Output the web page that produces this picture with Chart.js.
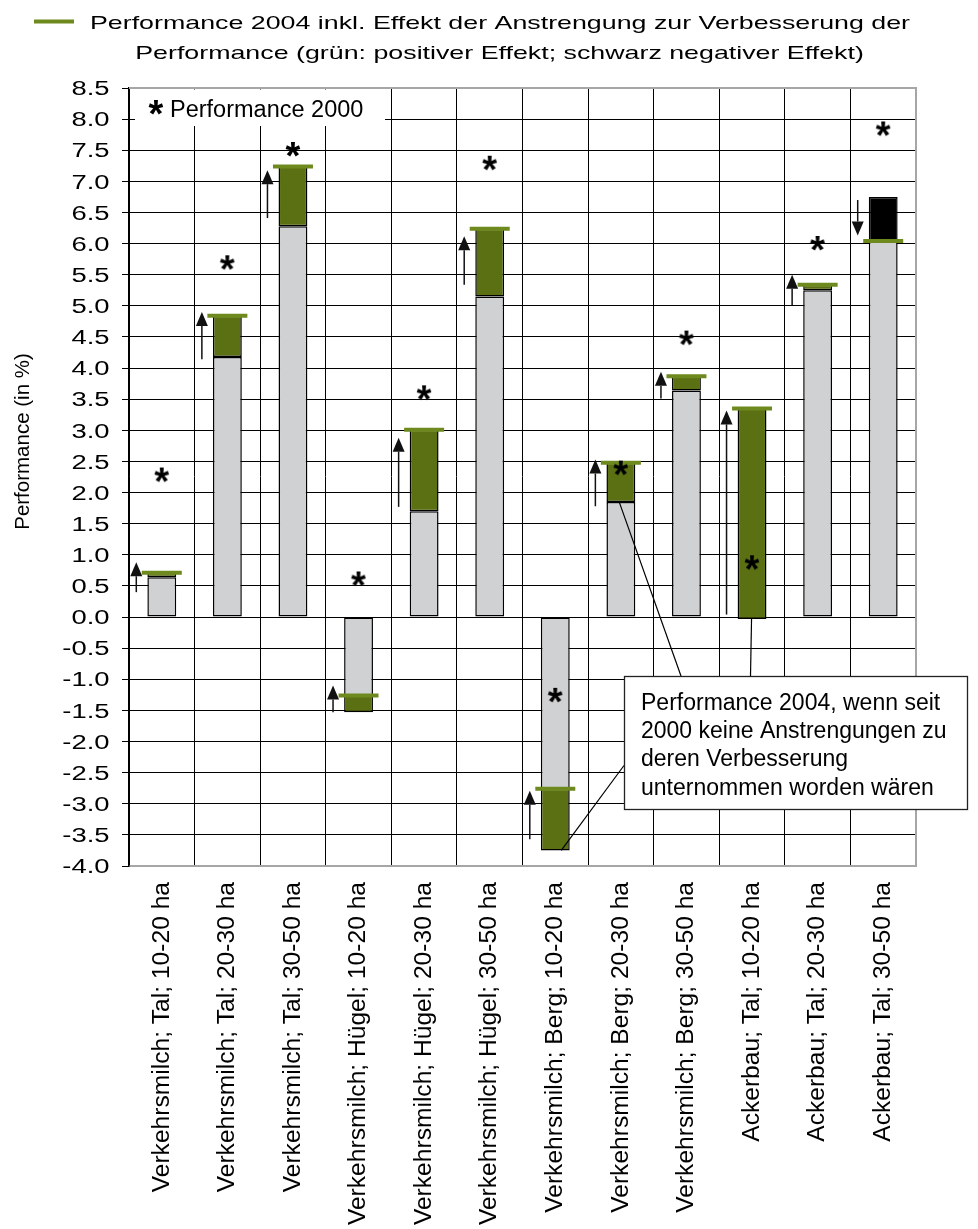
<!DOCTYPE html>
<html>
<head>
<meta charset="utf-8">
<script src="https://cdn.jsdelivr.net/npm/chart.js@4.4.1/dist/chart.umd.min.js"></script>
<style>
  body { margin: 0; background: #fff; }
  #wrap { width: 978px; height: 1229px; }
</style>
</head>
<body>
<div id="wrap"><canvas id="myChart"></canvas></div>
<script>
const categories = [
  "Verkehrsmilch; Tal; 10-20 ha",
  "Verkehrsmilch; Tal; 20-30 ha",
  "Verkehrsmilch; Tal; 30-50 ha",
  "Verkehrsmilch; Hügel; 10-20 ha",
  "Verkehrsmilch; Hügel; 20-30 ha",
  "Verkehrsmilch; Hügel; 30-50 ha",
  "Verkehrsmilch; Berg; 10-20 ha",
  "Verkehrsmilch; Berg; 20-30 ha",
  "Verkehrsmilch; Berg; 30-50 ha",
  "Ackerbau; Tal; 10-20 ha",
  "Ackerbau; Tal; 20-30 ha",
  "Ackerbau; Tal; 30-50 ha"
];
// Performance 2000 (stars)
const perf2000 = [2.29, 5.70, 7.52, 0.62, 3.61, 7.30, -1.25, 2.40, 4.49, 0.88, 6.01, 7.85];
// Performance 2004 without efforts since 2000
const perfOhne = [0.64, 4.18, 6.28, -1.53, 1.70, 5.15, -3.75, 1.85, 3.64, -0.03, 5.25, 6.75];
// Performance 2004 incl. effect of the efforts
const perf2004 = [0.71, 4.84, 7.24, -1.26, 3.01, 6.24, -2.76, 2.48, 3.87, 3.35, 5.34, 6.04];
// arrows left of the bars
const arrowFrom = [0.40, 4.14, 6.41, -1.53, 1.77, 5.34, -3.57, 1.78, 3.51, 0.04, 5.01, 6.70];
const arrowTo = [0.88, 4.90, 7.18, -1.10, 2.88, 6.12, -2.79, 2.53, 3.94, 3.32, 5.50, 6.13];
const yMin = -4, yMax = 8.5, yStep = 0.5;

const legendLines = [
  "Performance 2004 inkl. Effekt der Anstrengung zur Verbesserung der",
  "Performance (grün: positiver Effekt; schwarz negativer Effekt)"
];
const starLegend = "Performance 2000";
const yTitle = "Performance (in %)";
const calloutLines = [
  "Performance 2004, wenn seit",
  "2000 keine Anstrengungen zu",
  "deren Verbesserung",
  "unternommen worden wären"
];
const calloutTargets = [7, 9, 6];

const green = "#5b7012";
const markerGreen = "#6e8a1e";
const grey = "#d0d1d3";
const FONT = '"Liberation Sans", Arial, sans-serif';

Chart.defaults.font.family = FONT;
Chart.defaults.color = "#000";

// grey part of the bar: from 0 to the value nearer to zero (if same sign)
const grayBars = perfOhne.map((o, i) => {
  const m = perf2004[i];
  if (o * m <= 0) return null;
  return [0, Math.abs(o) < Math.abs(m) ? o : m];
});
const effectBars = perfOhne.map((o, i) => [o, perf2004[i]]);
const effectColors = perfOhne.map((o, i) => (perf2004[i] >= o ? green : "#000"));

// asterisk marker
const starImg = document.createElement("canvas");
starImg.width = 26;
starImg.height = 26;
const sc = starImg.getContext("2d");
sc.font = "bold 38px " + FONT;
const sm = sc.measureText("*");
sc.fillStyle = "#000";
sc.fillText("*",
  13 - (sm.actualBoundingBoxRight - sm.actualBoundingBoxLeft) / 2,
  13 + (sm.actualBoundingBoxAscent - sm.actualBoundingBoxDescent) / 2);

function wideText(ctx, text, x, y, font, sx, align) {
  ctx.save();
  ctx.translate(x, y);
  ctx.scale(sx, 1);
  ctx.font = font;
  ctx.textAlign = align;
  ctx.textBaseline = "alphabetic";
  ctx.fillStyle = "#000";
  ctx.fillText(text, 0, 0);
  ctx.restore();
}

const extras = {
  id: "extras",
  beforeDatasetsDraw(chart) {
    const { ctx, chartArea: a } = chart;
    ctx.save();
    // grey frame of the plot area
    ctx.strokeStyle = "#a6a6a6";
    ctx.lineWidth = 2;
    ctx.beginPath();
    ctx.moveTo(a.left, a.top);
    ctx.lineTo(a.right, a.top);
    ctx.lineTo(a.right, a.bottom);
    ctx.lineTo(a.left + 1, a.bottom);
    ctx.stroke();
    // star legend box
    ctx.fillStyle = "#fff";
    ctx.fillRect(a.left + 6, a.top + 1.5, 250, 36.5);
    ctx.drawImage(starImg, 156 - 13, 107 - 13);
    ctx.font = "23.5px " + FONT;
    ctx.fillStyle = "#000";
    ctx.textBaseline = "alphabetic";
    ctx.fillText(starLegend, 170, 116.7);
    ctx.restore();
  },
  afterDatasetsDraw(chart) {
    const { ctx } = chart;
    const xs = chart.scales.x, ys = chart.scales.y;
    ctx.save();
    // arrows
    ctx.fillStyle = "#111";
    ctx.strokeStyle = "#111";
    ctx.lineWidth = 1.5;
    arrowFrom.forEach((v, i) => {
      const x = xs.getPixelForValue(i) - 25.5;
      const y0 = ys.getPixelForValue(v);
      const y1 = ys.getPixelForValue(arrowTo[i]);
      const d = y1 < y0 ? -1 : 1;
      const head = 14;
      ctx.beginPath();
      ctx.moveTo(x, y0);
      ctx.lineTo(x, y1 - d * head);
      ctx.stroke();
      ctx.beginPath();
      ctx.moveTo(x, y1);
      ctx.lineTo(x - 6, y1 - d * head);
      ctx.lineTo(x + 6, y1 - d * head);
      ctx.closePath();
      ctx.fill();
    });
    // callout leader lines
    const anchors = [[681, 676, -1.7], [750.5, 676, -0.5], [624, 765.5, 6]];
    ctx.strokeStyle = "#000";
    ctx.lineWidth = 1.2;
    calloutTargets.forEach((c, k) => {
      const [bx, by, dx] = anchors[k];
      ctx.beginPath();
      ctx.moveTo(bx, by);
      ctx.lineTo(xs.getPixelForValue(c) + dx, ys.getPixelForValue(perfOhne[c]));
      ctx.stroke();
    });
    // callout box
    ctx.fillStyle = "#fff";
    ctx.fillRect(624.5, 676.5, 343, 133);
    ctx.strokeStyle = "#222";
    ctx.lineWidth = 1.3;
    ctx.strokeRect(624.5, 676.5, 343, 133);
    ctx.font = "23px " + FONT;
    ctx.fillStyle = "#000";
    ctx.textBaseline = "alphabetic";
    calloutLines.forEach((t, k) => ctx.fillText(t, 641, 709.5 + k * 28.4));
    ctx.restore();
  },
  afterDraw(chart) {
    const { ctx } = chart;
    const ys = chart.scales.y;
    // y tick labels
    ys.ticks.forEach(t => {
      wideText(ctx, t.value.toFixed(1), 109.5, ys.getPixelForValue(t.value) + 7.2,
        "20px " + FONT, 1.37, "right");
    });
    // y title
    ctx.save();
    ctx.translate(29, 441.5);
    ctx.rotate(-Math.PI / 2);
    ctx.font = "20.5px " + FONT;
    ctx.textAlign = "center";
    ctx.fillStyle = "#000";
    ctx.fillText(yTitle, 0, 0);
    ctx.restore();
    // top legend
    ctx.save();
    ctx.strokeStyle = markerGreen;
    ctx.lineWidth = 4;
    ctx.beginPath();
    ctx.moveTo(34, 21.5);
    ctx.lineTo(74, 21.5);
    ctx.stroke();
    ctx.restore();
    wideText(ctx, legendLines[0], 500, 28.5, "19px " + FONT, 1.41, "center");
    wideText(ctx, legendLines[1], 499.5, 58.5, "19px " + FONT, 1.41, "center");
  }
};

const ctx = document.getElementById("myChart");
const myChart = new Chart(ctx, {
  type: "bar",
  data: {
    labels: categories,
    datasets: [
      {
        type: "line",
        label: "Performance 2000",
        data: perf2000,
        showLine: false,
        pointStyle: starImg,
        pointRadius: 7,
        order: 0
      },
      {
        type: "line",
        label: "Performance 2004",
        data: perf2004,
        showLine: false,
        pointStyle: "line",
        pointRadius: 20,
        pointBorderWidth: 4,
        pointBorderColor: markerGreen,
        pointBackgroundColor: markerGreen,
        order: 1
      },
      {
        label: "Effekt",
        data: effectBars,
        backgroundColor: effectColors,
        borderColor: "#000",
        borderWidth: 1.5,
        borderSkipped: false,
        grouped: false,
        barPercentage: 0.44,
        categoryPercentage: 1,
        order: 2
      },
      {
        label: "ohne Anstrengungen",
        data: grayBars,
        backgroundColor: grey,
        borderColor: "#000",
        borderWidth: 1.5,
        borderSkipped: false,
        grouped: false,
        barPercentage: 0.44,
        categoryPercentage: 1,
        order: 3
      }
    ]
  },
  options: {
    responsive: true,
    maintainAspectRatio: false,
    animation: false,
    devicePixelRatio: 1,
    layout: { padding: { top: 88, right: 62, left: 0, bottom: 0 } },
    plugins: {
      legend: { display: false },
      tooltip: { enabled: false },
      title: { display: false }
    },
    scales: {
      x: {
        grid: { color: "#000", lineWidth: 1, drawTicks: false, offset: true },
        border: { color: "#a6a6a6", width: 2 },
        ticks: {
          autoSkip: false,
          minRotation: 90,
          maxRotation: 90,
          padding: 16,
          color: "#000",
          font: { size: 24.6 }
        },
        afterFit: s => { s.height = 363; }
      },
      y: {
        min: yMin,
        max: yMax,
        ticks: { stepSize: yStep, display: false },
        grid: { color: "#000", lineWidth: 1, tickLength: 7 },
        border: { color: "#000", width: 1.5 },
        afterFit: s => { s.width = 129; }
      }
    }
  },
  plugins: [extras]
});
</script>
</body>
</html>
